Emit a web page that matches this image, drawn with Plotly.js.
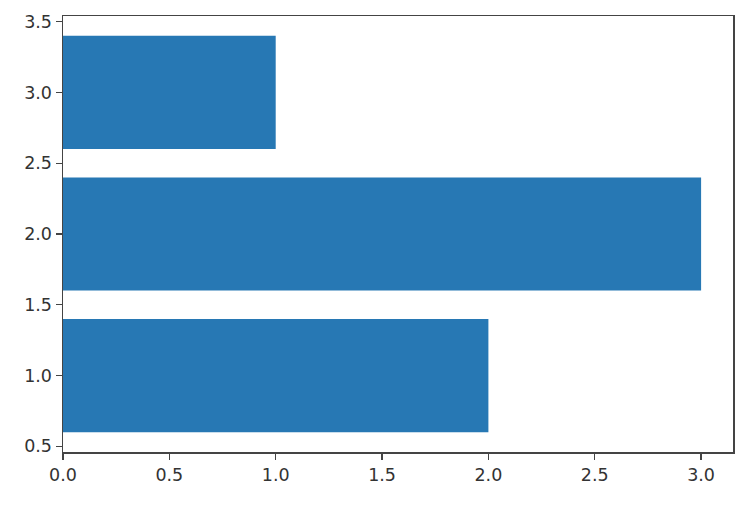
<!DOCTYPE html>
<html><head><meta charset="utf-8">
<script src="https://cdn.plot.ly/plotly-3.0.1.min.js"></script>
<style>body{margin:0;padding:0;background:#fff}</style>
</head><body>
<div id="chart" style="width:754px;height:506px"></div>
<script>
const positions = [1, 2, 3];
const widths = [2, 3, 1];
const xTicks = [0, 0.5, 1, 1.5, 2, 2.5, 3];
const xTickLabels = ["0.0", "0.5", "1.0", "1.5", "2.0", "2.5", "3.0"];
const yTicks = [0.5, 1, 1.5, 2, 2.5, 3, 3.5];
const yTickLabels = ["0.5", "1.0", "1.5", "2.0", "2.5", "3.0", "3.5"];

const trace = {
  type: 'bar', orientation: 'h',
  x: widths, y: positions, width: 0.8,
  marker: {color: '#2778b4', line: {width: 0}},
  hoverinfo: 'none'
};
const axFont = {family: 'DejaVu Sans', size: 17.5, color: '#333'};
const layout = {
  width: 754, height: 506,
  margin: {l: 63, r: 21, t: 16, b: 54},
  paper_bgcolor: '#fff', plot_bgcolor: '#fff',
  showlegend: false,
  xaxis: {range: [0, 3.15], tickvals: xTicks, ticktext: xTickLabels,
    ticks: 'outside', ticklen: 6, tickwidth: 1.3, tickcolor: '#444',
    showgrid: false, zeroline: false, showline: true, linecolor: '#444', linewidth: 1.5,
    mirror: true, tickfont: axFont},
  yaxis: {range: [0.46, 3.54], tickvals: yTicks, ticktext: yTickLabels,
    ticks: 'outside', ticklen: 6, tickwidth: 1.3, tickcolor: '#444',
    showgrid: false, zeroline: false, showline: true, linecolor: '#444', linewidth: 1.5,
    mirror: true, tickfont: axFont}
};
Plotly.newPlot('chart', [trace], layout, {displayModeBar: false, staticPlot: true});
</script>
</body></html>
